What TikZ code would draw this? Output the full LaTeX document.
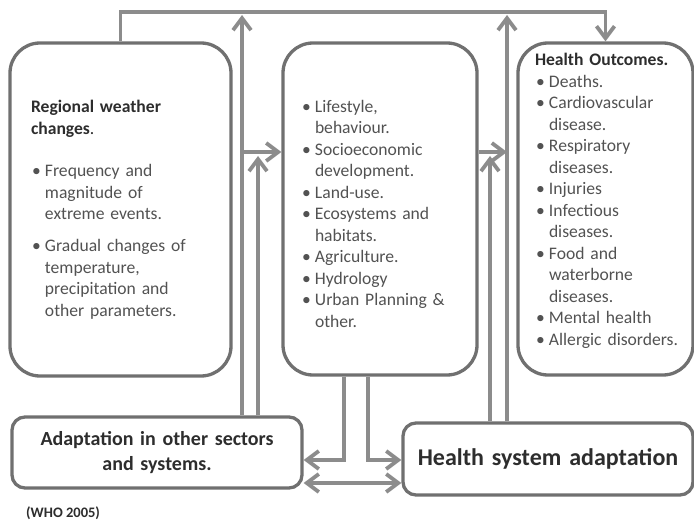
\documentclass[tikz,border=0pt]{standalone}
\usepackage{fontspec}
\setmainfont{Carlito}
\usetikzlibrary{arrows.meta,calc}
\definecolor{boxgray}{RGB}{112,112,112}
\definecolor{arrgray}{RGB}{140,140,140}
\definecolor{txtgray}{RGB}{82,82,82}
\definecolor{headgray}{RGB}{45,45,45}
\newcommand{\bitem}[1]{\par\hangindent=14pt\hangafter=1\noindent\makebox[14pt][l]{\hspace{1pt}\textbullet}#1}
\newcommand{\bodysize}{\fontsize{17.6pt}{21.5pt}\selectfont}
\tikzset{
  >={Straight Barb[length=12pt,width=18pt]},
  panel/.style={draw=boxgray, line width=3.3pt, rounded corners=30pt, inner xsep=0pt, inner ysep=0pt, align=left, text=txtgray, font=\bodysize},
  tray/.style={draw=boxgray, line width=3.3pt, rounded corners=13pt, inner xsep=0pt, inner ysep=0pt, align=center, text=headgray},
  arr/.style={draw=arrgray, line width=3.8pt, ->},
  darr/.style={draw=arrgray, line width=3.8pt, <->},
}

\begin{document}
\begin{tikzpicture}[x=1pt,y=-1pt]
\useasboundingbox (0,0) rectangle (694,524);
% upper row
\node[panel, text width=221pt, minimum height=333pt] (weather) at (120.5,209.5)
  {\leftskip=21pt {\bfseries\color{headgray}Regional weather\\ changes}{\color{headgray}.}\par\vspace{21pt}%
   \bitem{Frequency and\newline magnitude of\newline extreme events.}\par\vspace{10.5pt}%
   \bitem{Gradual changes of\newline temperature,\newline precipitation and\newline other parameters.}\par};
\node[panel, text width=194pt, minimum height=332pt] (drivers) at (380,209)
  {\leftskip=18pt \bitem{Lifestyle,\newline behaviour.}\bitem{Socioeconomic\newline development.}%
   \bitem{Land-use.}\bitem{Ecosystems and\newline habitats.}\bitem{Agriculture.}%
   \bitem{Hydrology}\bitem{Urban Planning \&\newline other.}\par};
\node[panel, text width=175pt, minimum height=332pt] (outcomes) at (605.5,209)
  {\leftskip=17pt \textbf{\color{headgray}Health Outcomes.}\bitem{Deaths.}%
   \bitem{Cardiovascular\newline disease.}\bitem{Respiratory\newline diseases.}\bitem{Injuries}%
   \bitem{Infectious\newline diseases.}\bitem{Food and\newline waterborne\newline diseases.}%
   \bitem{Mental health}\bitem{Allergic disorders.}\par\vspace{16pt}\hrule height0pt depth0pt width0pt};
% lower row
\node[tray, text width=290pt, minimum height=71pt, font=\fontsize{20pt}{24.5pt}\selectfont\bfseries] (adapt) at (157,452.5)
  {Adaptation in other sectors\\ and systems.};
\node[tray, text width=290pt, minimum height=72pt, font=\fontsize{24pt}{29pt}\selectfont\bfseries] (health) at (548,459)
  {Health system adaptation};
\node[anchor=west, inner sep=0pt, text=headgray, font=\fontsize{14.5pt}{17pt}\selectfont\bfseries] (source) at (26,513) {(WHO 2005)};

\coordinate (roof) at (0,12);
\coordinate (topL) at (242,15);
\coordinate (topR) at (507,15);
\coordinate (midL) at (258,156);
\coordinate (midR) at (490,156);
\coordinate (forkL) at (242,152);
\coordinate (forkR) at (507,152);
\coordinate (dropL) at (344,460);
\coordinate (dropR) at (368,460);
\coordinate (link) at (0,483);

% loop over the top
\draw[arr] (weather.north) -- (weather.north |- roof) -| (outcomes.north);
% rising arrows
\draw[arr] (adapt.north -| topL) -- (topL);
\draw[arr] (adapt.north -| midL) -- (midL);
\draw[arr] (forkL) -- (forkL -| drivers.west);
\draw[arr] (health.north -| topR) -- (topR);
\draw[arr] (health.north -| midR) -- (midR);
\draw[arr] (forkR -| drivers.east) -- (forkR);
% links below
\draw[arr] (drivers.south -| dropL) -- (dropL) -- (dropL -| adapt.east);
\draw[arr] (drivers.south -| dropR) -- (dropR) -- (dropR -| health.west);
\draw[darr] (link -| adapt.east) -- (link -| health.west);
\end{tikzpicture}
\end{document}
